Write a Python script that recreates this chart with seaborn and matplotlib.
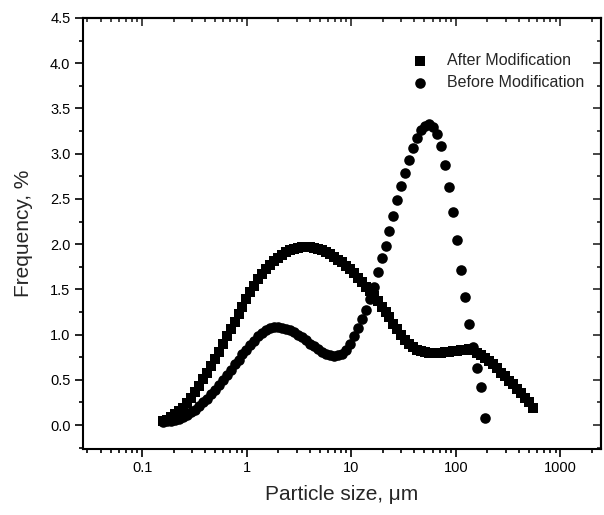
import matplotlib
matplotlib.use("Agg")
import matplotlib.pyplot as plt
import matplotlib.ticker as mticker
import pandas as pd
import seaborn as sns

# Particle size classes (um)
size_um = [0.1585, 0.1730, 0.1888, 0.2061, 0.2249, 0.2455, 0.2679, 0.2924, 0.3192, 0.3483,
           0.3802, 0.4150, 0.4529, 0.4943, 0.5395, 0.5888, 0.6427, 0.7015, 0.7656, 0.8356,
           0.9120, 0.9954, 1.0864, 1.1858, 1.2942, 1.4125, 1.5417, 1.6827, 1.8365, 2.0045,
           2.1878, 2.3878, 2.6062, 2.8445, 3.1046, 3.3884, 3.6983, 4.0365, 4.4055, 4.8084,
           5.2481, 5.7280, 6.2517, 6.8234, 7.4473, 8.1283, 8.8716, 9.6828, 10.568, 11.535,
           12.589, 13.740, 14.997, 16.368, 17.865, 19.498, 21.281, 23.227, 25.351, 27.669,
           30.200, 32.961, 35.975, 39.264, 42.855, 46.774, 51.050, 55.719, 60.814, 66.374,
           72.444, 79.068, 86.298, 94.189, 102.80, 112.20, 122.46, 133.66, 145.88, 159.22,
           173.78, 189.67, 207.01, 225.94, 246.60, 269.15, 293.76, 320.63, 349.95, 381.94,
           416.87, 454.99, 496.59, 542.00]

# Frequency (%) after modification
after_freq = [0.04, 0.06, 0.09, 0.12, 0.15, 0.19, 0.24, 0.30, 0.36, 0.43,
              0.51, 0.58, 0.65, 0.73, 0.81, 0.90, 0.98, 1.06, 1.14, 1.23,
              1.31, 1.39, 1.47, 1.54, 1.61, 1.67, 1.72, 1.77, 1.81, 1.85,
              1.88, 1.91, 1.93, 1.95, 1.96, 1.97, 1.97, 1.97, 1.96, 1.95,
              1.93, 1.91, 1.89, 1.86, 1.83, 1.80, 1.76, 1.72, 1.68, 1.63,
              1.58, 1.53, 1.48, 1.43, 1.37, 1.31, 1.25, 1.19, 1.12, 1.06,
              1.00, 0.94, 0.90, 0.86, 0.83, 0.82, 0.81, 0.80, 0.80, 0.80,
              0.80, 0.81, 0.81, 0.82, 0.82, 0.83, 0.83, 0.84, 0.83, 0.80,
              0.77, 0.74, 0.71, 0.67, 0.63, 0.58, 0.54, 0.49, 0.45, 0.40,
              0.35, 0.30, 0.25, 0.19]

# Frequency (%) before modification (first 82 size classes)
before_freq = [0.03, 0.04, 0.05, 0.06, 0.07, 0.09, 0.11, 0.14, 0.17, 0.21,
               0.25, 0.29, 0.34, 0.39, 0.44, 0.50, 0.55, 0.61, 0.67, 0.72,
               0.78, 0.83, 0.88, 0.93, 0.98, 1.02, 1.05, 1.07, 1.08, 1.08,
               1.075, 1.065, 1.05, 1.03, 1.00, 0.97, 0.94, 0.90, 0.87, 0.84,
               0.81, 0.79, 0.77, 0.765, 0.77, 0.79, 0.83, 0.90, 0.98, 1.07,
               1.17, 1.27, 1.39, 1.53, 1.69, 1.85, 1.98, 2.15, 2.31, 2.49,
               2.64, 2.79, 2.93, 3.06, 3.17, 3.26, 3.31, 3.33, 3.30, 3.22,
               3.08, 2.88, 2.63, 2.35, 2.05, 1.71, 1.41, 1.12, 0.86, 0.63,
               0.42, 0.08]

after_df = pd.DataFrame({"size": size_um, "freq": after_freq})
before_df = pd.DataFrame({"size": size_um[:len(before_freq)], "freq": before_freq})

sns.set_style("ticks")
plt.rcParams['font.family'] = ['Liberation Sans', 'DejaVu Sans']

fig = plt.figure(figsize=(6.04, 5.15), dpi=100)
ax = fig.add_axes([83 / 604, 1 - 449 / 515, 518 / 604, 431 / 515])

sns.scatterplot(data=after_df, x="size", y="freq", ax=ax, marker="s", s=46,
                color="black", linewidth=0, label="After Modification", zorder=2)
sns.scatterplot(data=before_df, x="size", y="freq", ax=ax, marker="o", s=58,
                color="black", linewidth=0, label="Before Modification", zorder=3)

ax.set_xscale("log")
ax.set_xlim(0.0272, 2450)
ax.set_ylim(-0.265, 4.5)

ax.xaxis.set_major_locator(mticker.FixedLocator([0.1, 1, 10, 100, 1000]))
ax.xaxis.set_major_formatter(mticker.FixedFormatter(["0.1", "1", "10", "100", "1000"]))
ax.xaxis.set_minor_locator(mticker.LogLocator(base=10, subs=range(2, 10), numticks=20))
ax.xaxis.set_minor_formatter(mticker.NullFormatter())
ax.yaxis.set_major_locator(mticker.MultipleLocator(0.5))
ax.yaxis.set_minor_locator(mticker.MultipleLocator(0.25))
ax.yaxis.set_major_formatter(mticker.FormatStrFormatter("%.1f"))

ax.tick_params(which="both", direction="out", labelsize=10.5, width=1.2,
               colors="black", pad=3)
ax.tick_params(which="major", length=6)
ax.tick_params(which="minor", length=3)

# mirrored ticks on top and right, pointing inwards
top = ax.secondary_xaxis("top")
top.set_xscale("log")
top.xaxis.set_major_locator(mticker.FixedLocator([0.1, 1, 10, 100, 1000]))
top.xaxis.set_minor_locator(mticker.LogLocator(base=10, subs=range(2, 10), numticks=20))
top.tick_params(which="both", direction="in", labeltop=False, width=1.2)
top.tick_params(which="major", length=6)
top.tick_params(which="minor", length=3)
right = ax.secondary_yaxis("right")
right.yaxis.set_major_locator(mticker.MultipleLocator(0.5))
right.yaxis.set_minor_locator(mticker.MultipleLocator(0.25))
right.tick_params(which="both", direction="in", labelright=False, width=1.2)
right.tick_params(which="major", length=6)
right.tick_params(which="minor", length=3)
for sec in (top, right):
    for sp in sec.spines.values():
        sp.set_linewidth(1.5)

for sp in ax.spines.values():
    sp.set_linewidth(1.5)
    sp.set_color("black")

ax.set_xlabel("Particle size, \u03bcm", fontsize=15, labelpad=7)
ax.set_ylabel("Frequency, %", fontsize=15, labelpad=12)

ax.legend(loc="upper left", bbox_to_anchor=(0.635, 0.918), frameon=False,
          fontsize=11.5, handlelength=1.0, handletextpad=1.2, labelspacing=0.4,
          borderpad=0, borderaxespad=0)

fig.savefig("out.png", dpi=100)
